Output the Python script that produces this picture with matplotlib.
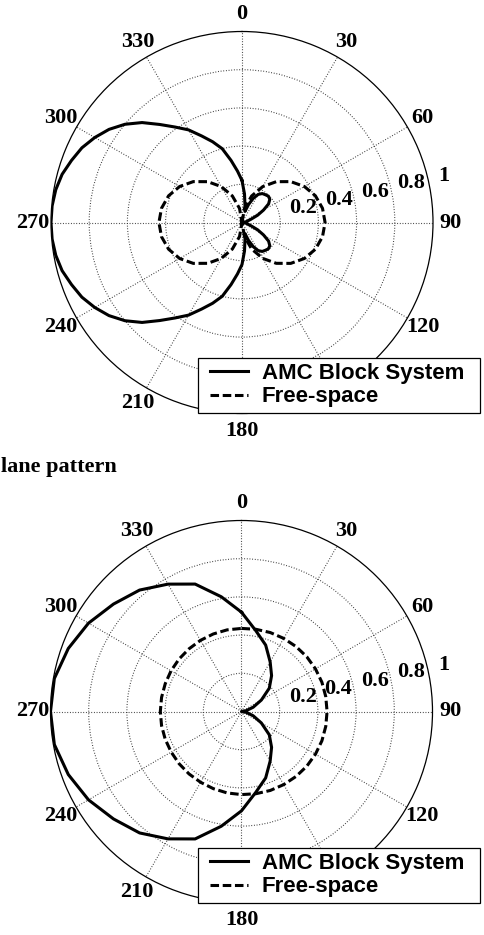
import numpy as np
import matplotlib
matplotlib.use("Agg")
import matplotlib.pyplot as plt

# angles in degrees (sampling grid of the patterns)
ang_fine = np.arange(0, 361, 5)
ang_coarse = np.arange(0, 361, 10)

# top panel, normalised gain
top_amc = [0.22, 0.15, 0.09, 0.06, 0.10, 0.14, 0.17, 0.185, 0.19, 0.195,
           0.19, 0.17, 0.13, 0.09, 0.05, 0.03, 0.02, 0.015, 0.01,
           0.015, 0.02, 0.03, 0.05, 0.09, 0.13, 0.17, 0.19, 0.195, 0.19,
           0.185, 0.17, 0.14, 0.10, 0.06, 0.09, 0.15, 0.22,
           0.27, 0.33, 0.40, 0.45, 0.50, 0.56, 0.61, 0.67, 0.74, 0.80,
           0.85, 0.89, 0.925, 0.95, 0.975, 0.99, 0.998, 1.0,
           0.998, 0.99, 0.975, 0.95, 0.925, 0.89, 0.85, 0.80, 0.74, 0.67,
           0.61, 0.56, 0.50, 0.45, 0.40, 0.33, 0.27, 0.22]
top_free = [0.0, 0.075, 0.148, 0.217, 0.279, 0.333, 0.377, 0.409, 0.428, 0.435,
            0.428, 0.409, 0.377, 0.333, 0.279, 0.217, 0.148, 0.075, 0.0,
            0.075, 0.148, 0.217, 0.279, 0.333, 0.377, 0.409, 0.428, 0.435,
            0.428, 0.409, 0.377, 0.333, 0.279, 0.217, 0.148, 0.075, 0.0]

# bottom panel
bot_amc = [0.52, 0.43, 0.37, 0.30, 0.245, 0.19, 0.12, 0.065, 0.025, 0.0,
           0.025, 0.065, 0.12, 0.19, 0.245, 0.30, 0.37, 0.43, 0.52,
           0.61, 0.71, 0.77, 0.83, 0.875, 0.925, 0.965, 0.995, 1.0,
           0.995, 0.965, 0.925, 0.875, 0.83, 0.77, 0.71, 0.61, 0.52]
bot_free = [0.435, 0.437, 0.44, 0.442, 0.444, 0.446, 0.447, 0.448, 0.448, 0.448,
            0.448, 0.448, 0.447, 0.446, 0.444, 0.442, 0.44, 0.437, 0.435,
            0.433, 0.43, 0.428, 0.427, 0.426, 0.425, 0.425, 0.425, 0.425,
            0.425, 0.425, 0.426, 0.427, 0.428, 0.43, 0.432, 0.434, 0.435]

theta_ticks = [0, 30, 60, 90, 120, 150, 180, 210, 240, 270, 300, 330]
# "150" sits under the legend box in the original, so it is left blank
theta_labels = ["0", "30", "60", "90", "120", "", "180", "210", "240", "270", "300", "330"]
r_ticks = [0.2, 0.4, 0.6, 0.8]
r_labels = ["0.2", "0.4", "0.6", "0.8", "1"]
series_names = ["AMC Block System", "Free-space"]
caption = "lane pattern"

W, H = 485.0, 935.0
fig = plt.figure(figsize=(4.85, 9.35), dpi=100)

serif = dict(family="Liberation Serif", weight="bold", size=16)


def panel(cx, cy, rad, a1, amc, a2, free, leg_top):
    ax = fig.add_axes([(cx - rad) / W, (H - cy - rad) / H, 2 * rad / W, 2 * rad / H],
                      projection="polar")
    ax.set_theta_zero_location("N")
    ax.set_theta_direction(-1)
    ax.set_ylim(0, 1)
    ax.set_thetagrids(theta_ticks, labels=[""] * len(theta_ticks))
    ax.set_rgrids(r_ticks, labels=[""] * len(r_ticks))
    ax.grid(True, color="0.2", linestyle=(0, (0.8, 1.6)), linewidth=0.8)
    ax.tick_params(length=0)
    ax.spines["polar"].set_linewidth(0.9)
    l1, = ax.plot(np.deg2rad(a1), amc, color="k", lw=2.2)
    l2, = ax.plot(np.deg2rad(a2), free, color="k", lw=2.2, dashes=(2.8, 1.2))
    for t, lab in zip(theta_ticks, theta_labels):
        if lab:
            ax.text(np.deg2rad(t), 1.093, lab, ha="center", va="center", **serif)
    for rr, lab in zip([0.33, 0.52, 0.715, 0.91, 1.085], r_labels):
        ax.text(np.deg2rad(77), rr, lab, ha="center", va="center", **serif)
    leg = ax.legend([l1, l2], series_names, loc="lower left", numpoints=2,
                    bbox_to_anchor=(198 / W, (H - leg_top - 59) / H, 282 / W, 59 / H),
                    bbox_transform=fig.transFigure, mode="expand", borderaxespad=0,
                    handlelength=2.3, handletextpad=0.33, borderpad=0.25,
                    labelspacing=0.1, fancybox=False, framealpha=1,
                    prop=dict(family="Liberation Sans", weight="bold", size=16))
    leg.get_frame().set_edgecolor("k")
    leg.get_frame().set_linewidth(0.9)
    return ax


panel(242, 222.5, 191, ang_fine, top_amc, ang_coarse, top_free, 354)
panel(241.5, 711.5, 191, ang_coarse, bot_amc, ang_coarse, bot_free, 844)

fig.text(1 / W, (H - 472) / H, caption, ha="left", va="baseline",
         family="Liberation Serif", weight="bold", size=16)

fig.savefig("out.png", dpi=100)
